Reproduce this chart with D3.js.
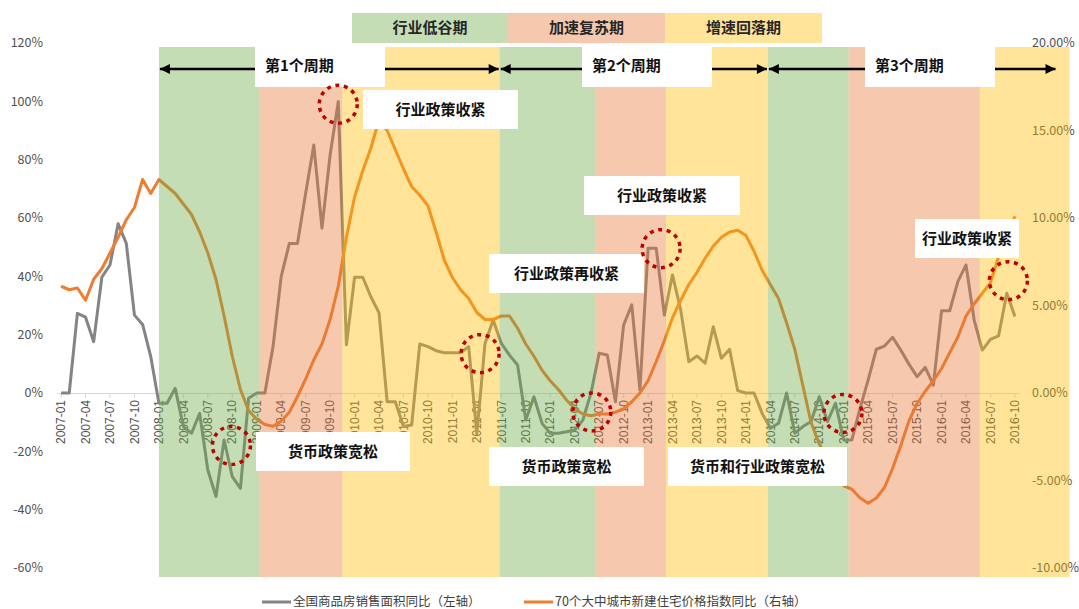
<!DOCTYPE html>
<html>
<head>
<meta charset="utf-8">
<script src="https://d3js.org/d3.v7.min.js"></script>
<style>
  body { margin: 0; background: #fff; }
  svg { font-family: "Microsoft YaHei", "Noto Sans CJK SC", sans-serif; }
  .axis text { font-size: 12px; fill: #505050; }
  .axis .domain, .axis line { stroke: #d9d9d9; }
  .box text { font-size: 15px; font-weight: bold; fill: #111; }
  .legend text { font-size: 12.5px; fill: #404040; }
</style>
</head>
<body>
<svg id="chart" width="1079" height="609"></svg>
<script>
// monthly categories 2007-01 .. 2016-10
var years = d3.range(2007, 2017);
var months = [];
years.forEach(y => d3.range(1, 13).forEach(m => months.push(y + '-' + String(m).padStart(2, '0'))));
months = months.slice(0, 118);

// 全国商品房销售面积同比 (%), left axis
var sales = [
  0, 0, 27.3, 26, 17.6, 39.7, 43.9, 58, 51.3, 26.7, 23.5, 12.5,
  -3.5, -3.5, 1.6, -11.5, -13.8, -7, -26.4, -35.5, -16.1, -28.7, -32.7, -1.8,
  0, 0, 15.9, 39.9, 51.3, 51.3, 68.5, 85, 56.5, 81.6, 99.9, 16.5,
  39.7, 39.7, 33, 27.5, -3, -3, -11.5, -11, 16.8, 15.9, 14.5, 13.8,
  13.8, 13.8, 15.9, -14, 17, 25, 17, 13, 9.6, -9.3, -1.3, -10.4,
  -13.8, -13.8, -13.3, -12.7, -9.3, 0, 13.6, 13, -3, 23.3, 30.2, 1,
  49.6, 49.6, 26.7, 40.5, 28.5, 10.7, 12.7, 10.2, 22.7, 11.9, 15, 0.8,
  0, 0, -7, -12.1, -10.4, 0, -13.8, -11.5, -9.8, -1.3, -9.8, -3.5,
  -16.1, -16.1, -5.3, 4.5, 15, 16.1, 19.1, 14.7, 9.9, 5.6, 8.8, 2.7,
  28.2, 28.2, 38.2, 43.9, 25, 14.7, 18.4, 19.6, 34.2, 26.2
];

// 70个大中城市新建住宅价格指数同比 (%), right axis
var price = [
  6.1, 5.9, 6.0, 5.3, 6.5, 7.1, 8.0, 8.9, 9.9, 10.6, 12.2, 11.4,
  12.2, 11.8, 11.4, 10.8, 10.2, 9.2, 8.0, 6.5, 4.4, 2.1, 0.2, -1.0,
  -1.5, -1.8, -1.9, -1.6, -1.1, -0.2, 0.8, 1.9, 2.8, 4.2, 6.1, 8.9,
  11.2, 12.7, 14.0, 15.6, 15.0, 13.9, 12.8, 11.8, 11.3, 10.7, 9.2, 7.6,
  6.6, 5.9, 5.4, 4.6, 4.2, 4.2, 4.4, 4.4, 3.7, 2.8, 2.1, 1.3,
  0.7, 0.2, -0.4, -0.9, -1.2, -1.3, -1.2, -1.2, -1.1, -0.9, -0.5, 0.0,
  0.7, 1.8, 3.0, 4.3, 5.3, 6.2, 6.9, 7.7, 8.4, 8.9, 9.2, 9.3,
  9.0, 8.1, 7.0, 6.2, 5.4, 4.0, 2.5, 0.4, -1.7, -2.9, -3.8, -4.6,
  -5.3, -5.5, -6.0, -6.3, -6.0, -5.4, -4.3, -3.0, -1.6, -0.6, 0.1, 0.7,
  1.4, 2.3, 3.2, 4.4, 5.1, 5.7, 6.3, 7.8, 8.9, 10.1
];

var leftTicks = d3.range(-60, 121, 20);
var rightTicks = d3.range(-10, 21, 5);

// phase bands: edges in month-index units, and phase type of each band
var phaseEdges = [12, 24.3, 34.5, 53.8, 65.5, 74.2, 86.7, 96.6, 112.7, 123.7];
var phaseTypes = ['低谷', '复苏', '回落', '低谷', '复苏', '回落', '低谷', '复苏', '回落'];
var phaseNames = ['行业低谷期', '加速复苏期', '增速回落期'];
var cycleNames = ['第1个周期', '第2个周期', '第3个周期'];
var cycleEdges = [12, 53.8, 86.7, 122.1];

// highlighted turning points: [month index, left-axis value]
var marks = [[20.9, -18], [34.0, 99], [51.4, 13.5], [65.1, -6.5], [73.6, 49.5], [95.9, -7], [116.2, 38.5]];

// callout labels (box positions are layout)
var callouts = [
  { t: '行业政策收紧', x: 363, y: 90, w: 155 },
  { t: '行业政策收紧', x: 584, y: 176, w: 156 },
  { t: '行业政策再收紧', x: 489, y: 254, w: 155 },
  { t: '行业政策收紧', x: 915, y: 219, w: 104 },
  { t: '货币政策宽松', x: 256, y: 432, w: 154 },
  { t: '货币政策宽松', x: 489, y: 447, w: 155 },
  { t: '货币和行业政策宽松', x: 668, y: 447, w: 179 }
];

var phaseColor = { '低谷': '#6EAA46', '复苏': '#E87834', '回落': '#FFBB00' };

var svg = d3.select('#chart');
var plotL = 57, plotR = 1019, plotT = 43, plotB = 568;

var x = d3.scaleBand().domain(months).range([plotL, plotR]);
var xi = d3.scaleLinear().domain([-0.5, months.length - 0.5]).range([plotL, plotR]);
var yL = d3.scaleLinear().domain([-60, 120]).range([plotB, plotT]);
var yR = d3.scaleLinear().domain([-10, 20]).range([plotB, plotT]);

// left axis labels
svg.append('g').attr('class', 'axis')
  .selectAll('text').data(leftTicks).enter().append('text')
  .attr('x', 43).attr('y', d => yL(d)).attr('dy', '0.35em')
  .attr('text-anchor', 'end').style('font-size', '12.5px')
  .text(d => d + '%');

// right axis labels
svg.append('g').attr('class', 'axis')
  .selectAll('text').data(rightTicks).enter().append('text')
  .attr('x', 1032).attr('y', d => yR(d)).attr('dy', '0.35em')
  .style('font-size', '12.5px')
  .text(d => d.toFixed(2) + '%');

// x axis at 0%
var xAxis = d3.axisBottom(x)
  .tickValues(months.filter((d, i) => i % 3 === 0))
  .tickSize(5).tickSizeOuter(0);
var gx = svg.append('g').attr('class', 'axis')
  .attr('transform', `translate(0, ${yL(0)})`)
  .call(xAxis);
gx.selectAll('text')
  .attr('transform', 'rotate(-90)')
  .attr('text-anchor', 'end')
  .attr('x', -7).attr('y', 0).attr('dy', '0.35em');

// series lines
var lineL = d3.line().x((d, i) => x(months[i]) + x.bandwidth() / 2).y(d => yL(d));
var lineR = d3.line().x((d, i) => x(months[i]) + x.bandwidth() / 2).y(d => yR(d));
svg.append('path').datum(sales).attr('d', lineL)
  .attr('fill', 'none').attr('stroke', '#848484').attr('stroke-width', 3).attr('stroke-linejoin', 'round');
svg.append('path').datum(price).attr('d', lineR)
  .attr('fill', 'none').attr('stroke', '#ED7D31').attr('stroke-width', 3).attr('stroke-linejoin', 'round');

// translucent phase bands over the lines
svg.append('g').selectAll('rect').data(phaseTypes).enter().append('rect')
  .attr('x', (d, i) => xi(phaseEdges[i]))
  .attr('width', (d, i) => xi(phaseEdges[i + 1]) - xi(phaseEdges[i]))
  .attr('y', 47).attr('height', 577 - 47)
  .attr('fill', d => phaseColor[d]).attr('opacity', 0.4);

// phase legend on top
var lg = svg.append('g').attr('class', 'box');
var lgX = [352, 508, 665, 822];
phaseNames.forEach((n, i) => {
  lg.append('rect').attr('x', lgX[i]).attr('y', 13).attr('width', lgX[i + 1] - lgX[i]).attr('height', 30)
    .attr('fill', phaseColor[phaseTypes[i]]).attr('opacity', 0.4);
  lg.append('text').attr('x', (lgX[i] + lgX[i + 1]) / 2).attr('y', 28).attr('dy', '0.35em')
    .attr('text-anchor', 'middle').style('fill', '#262626').text(n);
});

// cycle arrows
var defs = svg.append('defs');
defs.append('marker').attr('id', 'ah').attr('viewBox', '0 0 10 10')
  .attr('refX', 10).attr('refY', 5).attr('markerWidth', 4.5).attr('markerHeight', 4)
  .attr('markerUnits', 'strokeWidth').attr('orient', 'auto-start-reverse')
  .append('path').attr('d', 'M0,0 L10,5 L0,10 z').attr('fill', '#000');
var cy = 69;
cycleNames.forEach((n, i) => {
  svg.append('line')
    .attr('x1', xi(cycleEdges[i]) + 1).attr('x2', xi(cycleEdges[i + 1]) - 1)
    .attr('y1', cy).attr('y2', cy)
    .attr('stroke', '#000').attr('stroke-width', 2.5)
    .attr('marker-start', 'url(#ah)').attr('marker-end', 'url(#ah)');
});
var cycleBoxes = [[255, 130], [582, 130], [865, 130]];
var cb = svg.append('g').attr('class', 'box');
cycleNames.forEach((n, i) => {
  cb.append('rect').attr('x', cycleBoxes[i][0]).attr('y', 47).attr('width', cycleBoxes[i][1]).attr('height', 40).attr('fill', '#fff');
  cb.append('text').attr('x', cycleBoxes[i][0] + 10).attr('y', 66).attr('dy', '0.35em').text(n);
});

// callout boxes
var co = svg.append('g').attr('class', 'box').selectAll('g').data(callouts).enter().append('g');
co.append('rect').attr('x', d => d.x).attr('y', d => d.y).attr('width', d => d.w).attr('height', 39).attr('fill', '#fff');
co.append('text').attr('x', d => d.x + d.w / 2).attr('y', d => d.y + 20).attr('dy', '0.35em')
  .attr('text-anchor', 'middle').text(d => d.t);

// dotted red circles
svg.append('g').selectAll('circle').data(marks).enter().append('circle')
  .attr('cx', d => xi(d[0])).attr('cy', d => yL(d[1])).attr('r', 19)
  .attr('fill', 'none').attr('stroke', '#C00000').attr('stroke-width', 3.5)
  .attr('stroke-dasharray', '4,4.6');

// bottom legend
var leg = svg.append('g').attr('class', 'legend');
[['全国商品房销售面积同比（左轴）', '#848484', 262], ['70个大中城市新建住宅价格指数同比（右轴）', '#ED7D31', 524]].forEach(d => {
  leg.append('line').attr('x1', d[2]).attr('x2', d[2] + 29).attr('y1', 602).attr('y2', 602)
    .attr('stroke', d[1]).attr('stroke-width', 3);
  leg.append('text').attr('x', d[2] + 31).attr('y', 602).attr('dy', '0.35em').text(d[0]);
});
</script>
</body>
</html>
